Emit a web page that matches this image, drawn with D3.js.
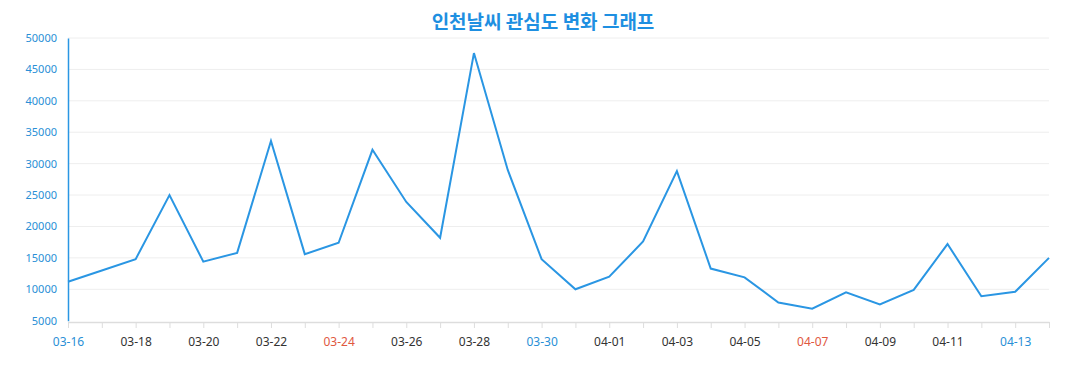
<!DOCTYPE html>
<html><head><meta charset="utf-8">
<script src="https://cdn.jsdelivr.net/npm/d3@7"></script>
<style>body{margin:0;background:#fff;} text{font-family:"Noto Sans","Noto Sans CJK KR",sans-serif;}</style>
</head><body>
<svg id="c" width="1077" height="390"></svg>
<script>
const dates = ["03-16","03-17","03-18","03-19","03-20","03-21","03-22","03-23","03-24","03-25","03-26","03-27","03-28","03-29","03-30","03-31","04-01","04-02","04-03","04-04","04-05","04-06","04-07","04-08","04-09","04-10","04-11","04-12","04-13","04-14"];
const values = [11200,13000,14800,25000,14400,15800,33600,15600,17400,32200,23900,18200,47600,29000,14800,10000,12000,17600,28800,13300,11900,7900,6900,9500,7600,9900,17200,8900,9600,15000];
const yTicks = [5000,10000,15000,20000,25000,30000,35000,40000,45000,50000];
const saturdays = ["03-16","03-30","04-13"];
const sundays = ["03-24","04-07"];
const title = "인천날씨 관심도 변화 그래프";

const svg = d3.select("#c");
const x = d3.scalePoint().domain(dates).range([68,1049]);
const y = d3.scaleLinear().domain([5000,50000]).range([320.7,38]);

svg.append("text").attr("x",543).attr("y",29).attr("text-anchor","middle")
  .attr("font-size",19).attr("font-weight","bold").attr("fill","#1e8fe1")
  .style("font-family","'Noto Sans CJK KR',sans-serif").text(title);

// grid
svg.append("g").selectAll("line").data(yTicks.slice(1)).join("line")
  .attr("x1",68).attr("x2",1049).attr("y1",d=>y(d)).attr("y2",d=>y(d))
  .attr("stroke","#eeeeee").attr("stroke-width",1);

// y axis
const ya = svg.append("g").attr("transform","translate(68,0)")
  .call(d3.axisLeft(y).tickValues(yTicks).tickSize(0).tickPadding(11).tickFormat(d3.format("d")));
ya.select(".domain").attr("stroke","#2a96e3").attr("stroke-width",1.5);
ya.selectAll("text").attr("fill","#2a8fd6").attr("font-size",11).style("font-family","'Noto Sans',sans-serif");

// x axis
const xa = svg.append("g").attr("transform","translate(0,322)")
  .call(d3.axisBottom(x).tickSize(6).tickSizeOuter(0).tickPadding(9)
    .tickFormat((d,i)=> i%2===0 ? d : ""));
xa.select(".domain").attr("stroke","#dddddd").attr("stroke-width",1.5);
xa.selectAll(".tick line").attr("stroke","#dddddd");
xa.selectAll("text").attr("font-size",12).style("font-family","'Noto Sans',sans-serif")
  .attr("fill",d=> saturdays.includes(d) ? "#2a8fd6" : sundays.includes(d) ? "#e0583f" : "#333333");

// line
svg.append("path").datum(values)
  .attr("d", d3.line().x((d,i)=>x(dates[i])).y(d=>y(d)))
  .attr("fill","none").attr("stroke","#2a96e3").attr("stroke-width",2).attr("stroke-linejoin","miter");
</script>
</body></html>
